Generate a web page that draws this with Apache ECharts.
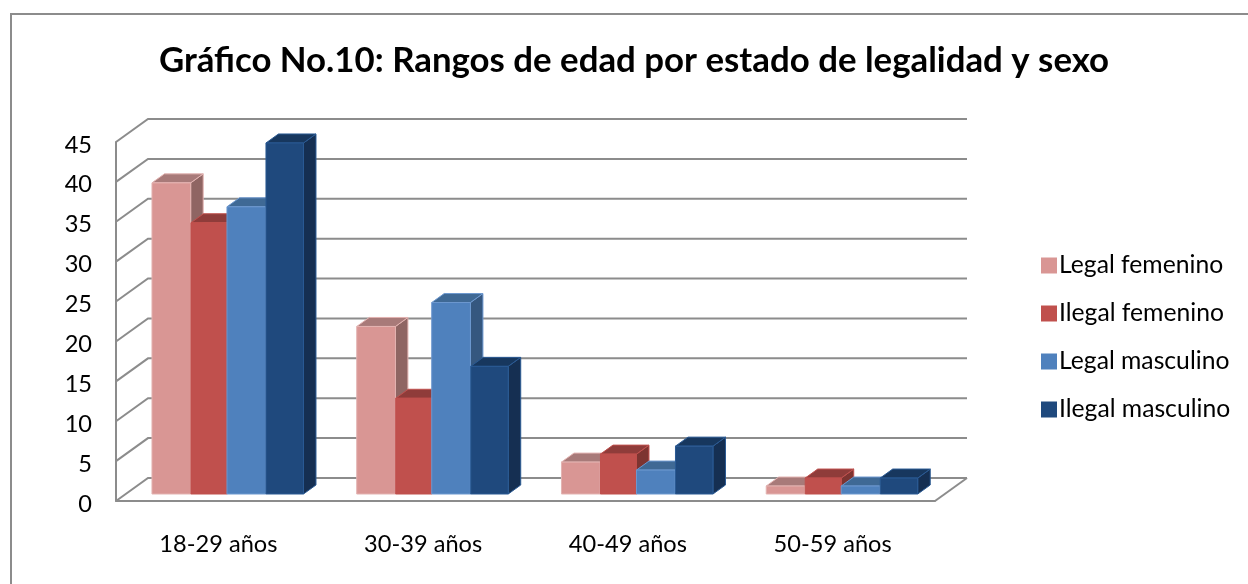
<!DOCTYPE html>
<html>
<head>
<meta charset="utf-8">
<style>
  html, body { margin: 0; padding: 0; background: #fff; }
  #chart { width: 1248px; height: 584px; }
</style>
</head>
<body>
<div id="chart"></div>
<script src="https://cdn.jsdelivr.net/npm/echarts@6/dist/echarts.min.js"></script>
<script>
const categories = ['18-29 años', '30-39 años', '40-49 años', '50-59 años']
const seriesNames = ['Legal femenino', 'Ilegal femenino', 'Legal masculino', 'Ilegal masculino']
const legalFemenino = [39, 21, 4, 1]
const ilegalFemenino = [34, 12, 5, 2]
const legalMasculino = [36, 24, 3, 1]
const ilegalMasculino = [44, 16, 6, 2]
const yTicks = [0, 5, 10, 15, 20, 25, 30, 35, 40, 45]

// caras del prisma: frente, arriba, lado, borde
const faces = [
  { front: '#d99694', top: '#a87a79', side: '#8f6563', line: '#e3b3b1' },
  { front: '#c0504d', top: '#8f3c3a', side: '#7d3431', line: '#c0504d' },
  { front: '#4f81bd', top: '#3f6995', side: '#35577f', line: '#6d98cf' },
  { front: '#1f497d', top: '#17375e', side: '#152f52', line: '#2a5a94' }
]
// posición de cada barra respecto al centro de la categoría
const slots = [
  { x: -66.4, w: 38.7 },
  { x: -27.4, w: 36 },
  { x: 8.6, w: 38.7 },
  { x: 47.6, w: 37.5 }
]
const wallDx = 32, wallDy = -23     // profundidad de las paredes
const barDx = 12.5, barDy = -9      // profundidad de las barras
const floorDy = -7                  // las barras van a media profundidad

function renderBar(idx) {
  return function (params, api) {
    const base = api.coord([api.value(0), 0])
    const head = api.coord([api.value(0), api.value(1)])
    const x0 = base[0] + slots[idx].x
    const x1 = x0 + slots[idx].w
    const y0 = base[1] + floorDy
    const y1 = head[1] + floorDy
    const f = faces[idx]
    return {
      type: 'group',
      children: [
        { type: 'polygon', shape: { points: [[x1, y1], [x1 + barDx, y1 + barDy], [x1 + barDx, y0 + barDy], [x1, y0]] }, style: { fill: f.side, stroke: f.line, lineWidth: 1 } },
        { type: 'polygon', shape: { points: [[x0, y1], [x0 + barDx, y1 + barDy], [x1 + barDx, y1 + barDy], [x1, y1]] }, style: { fill: f.top, stroke: f.line, lineWidth: 1 } },
        { type: 'rect', shape: { x: x0, y: y1, width: x1 - x0, height: y0 - y1 }, style: { fill: f.front, stroke: f.line, lineWidth: 1 } }
      ]
    }
  }
}

function renderWall(params, api) {
  const sys = params.coordSys
  const y = api.coord([0, api.value(1)])[1]
  const lines = [{
    type: 'polyline',
    shape: { points: [[sys.x, y], [sys.x + wallDx, y + wallDy], [sys.x + sys.width + wallDx, y + wallDy]] },
    style: { stroke: '#8c8c8c', lineWidth: 2, fill: null }
  }]
  if (api.value(1) === 0) {
    lines.push({
      type: 'line',
      shape: { x1: sys.x + sys.width, y1: y, x2: sys.x + sys.width + wallDx, y2: y + wallDy },
      style: { stroke: '#8c8c8c', lineWidth: 2 }
    })
  }
  return { type: 'group', children: lines }
}

const font = 'Lato, "Open Sans", sans-serif'
const barValues = [legalFemenino, ilegalFemenino, legalMasculino, ilegalMasculino]

const chart = echarts.init(document.getElementById('chart'), null, { renderer: 'canvas' })
chart.setOption({
  animation: false,
  backgroundColor: '#fff',
  title: {
    text: 'Gráfico No.10: Rangos de edad por estado de legalidad y sexo',
    left: 629,
    top: 38,
    textAlign: 'center',
    textStyle: { fontFamily: font, fontSize: 34.8, fontWeight: 'bold', color: '#000' }
  },
  legend: {
    orient: 'vertical',
    left: 1036,
    top: 248,
    itemWidth: 16,
    itemHeight: 16,
    itemGap: 23,
    icon: 'rect',
    data: seriesNames,
    textStyle: { fontFamily: font, fontSize: 24.7, color: '#000', padding: [0, 0, 0, -3] }
  },
  grid: { left: 116, right: 313, top: 142, bottom: 83 },
  xAxis: {
    type: 'category',
    data: categories,
    axisTick: { show: false },
    axisLine: { show: true, lineStyle: { color: '#8c8c8c', width: 2 } },
    axisLabel: { margin: 31, fontFamily: font, fontSize: 23.6, color: '#000' }
  },
  yAxis: {
    type: 'value',
    min: 0,
    max: 45,
    interval: 5,
    splitLine: { show: false },
    axisTick: { show: false },
    axisLine: { show: true, lineStyle: { color: '#8c8c8c', width: 2 } },
    axisLabel: { margin: 24, verticalAlign: 'top', lineHeight: 6, fontFamily: font, fontSize: 23.6, color: '#000' }
  },
  graphic: [
    { type: 'polyline', shape: { points: [[11, 584], [11, 14], [1248, 14]] }, style: { stroke: '#8c8c8c', lineWidth: 2, fill: null } }
  ],
  series: [
    { type: 'custom', name: 'paredes', renderItem: renderWall, data: yTicks.map(t => [0, t]), silent: true, z: 1 }
  ].concat(seriesNames.map((name, i) => ({
    type: 'custom',
    name: name,
    renderItem: renderBar(i),
    itemStyle: { color: faces[i].front },
    data: barValues[i].map((v, c) => [c, v]),
    z: 2 + i
  })))
})
</script>
</body>
</html>
